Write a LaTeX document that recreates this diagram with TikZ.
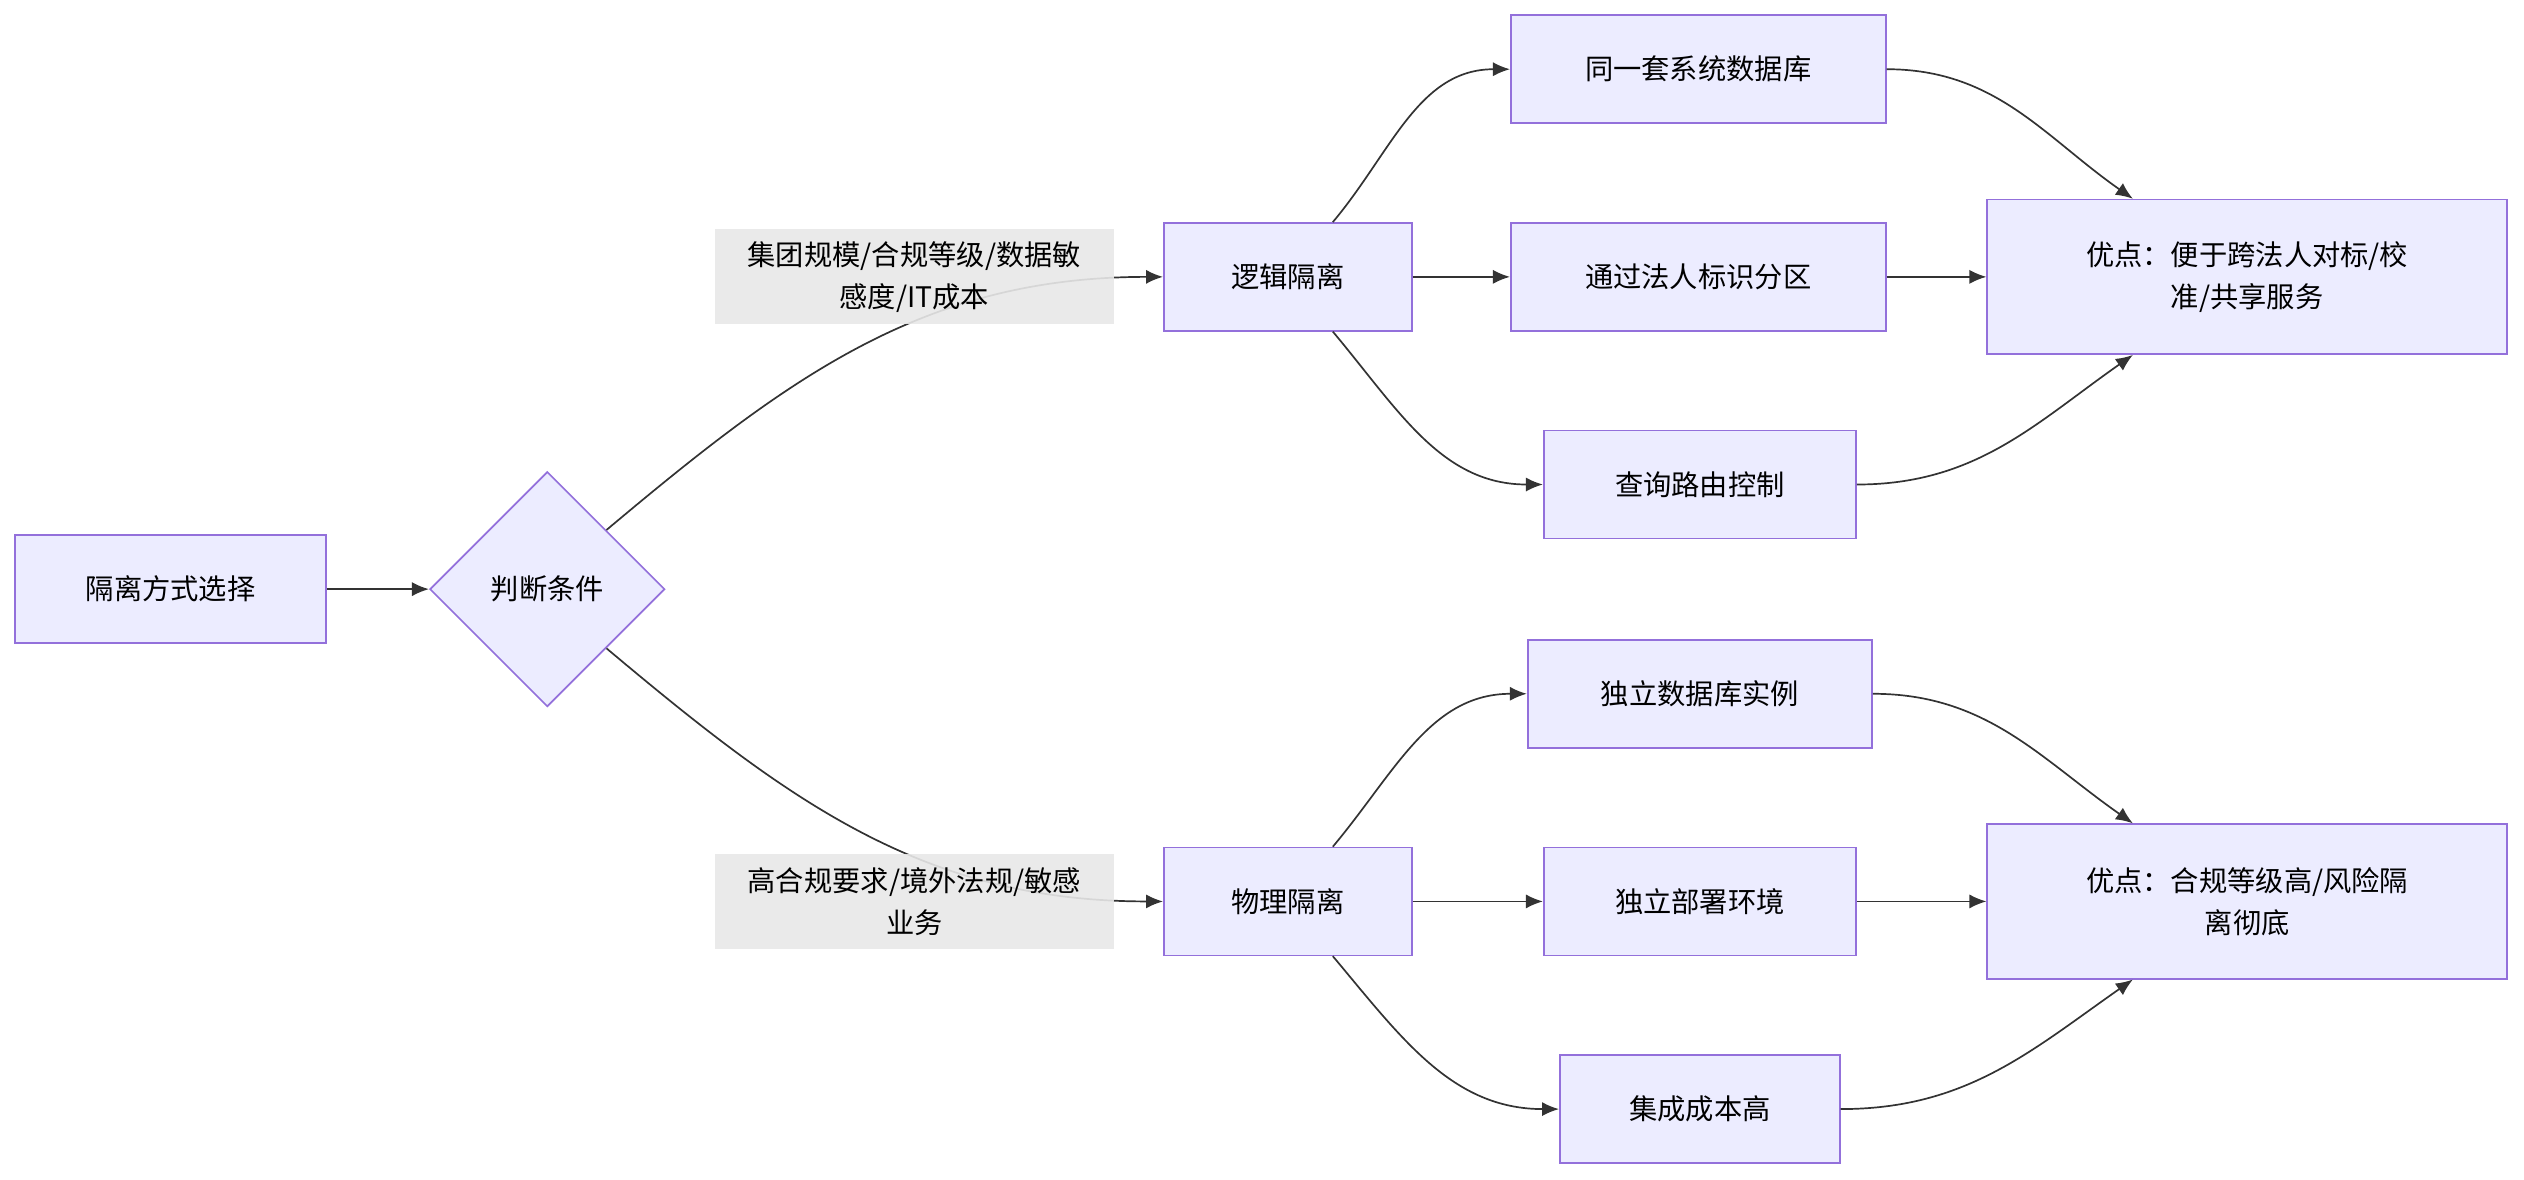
\documentclass[tikz,border=0pt]{standalone}
\usepackage{fontspec}
\setmainfont{Noto Sans CJK SC}
\usetikzlibrary{positioning,calc,shapes.geometric,arrows.meta}
\definecolor{boxfill}{HTML}{ECECFF}
\definecolor{boxline}{HTML}{9370DB}
\definecolor{edgecol}{HTML}{333333}
\definecolor{labelfill}{HTML}{E8E8E8}

\begin{document}
\begin{tikzpicture}
 [ x=0.02cm, y=0.02cm
 , font=\fontsize{10}{15}\selectfont
 , box/.style={draw=boxline, fill=boxfill, line width=0.6pt, minimum height=1.34cm, align=center, inner sep=0pt}
 , choice/.style={diamond, draw=boxline, fill=boxfill, line width=0.6pt, minimum width=2.92cm, minimum height=2.92cm, inner sep=0pt}
 , edge/.style={draw=edgecol, line width=0.6pt, -{Latex[length=6pt,width=5pt]}}
 , cond/.style={fill=labelfill, fill opacity=0.9, text opacity=1, minimum width=4.96cm, minimum height=1.18cm, align=center, inner sep=0pt}
 ]
  \useasboundingbox (0,0) rectangle (1568,-733);
  % left part
  \node [box, minimum width=3.86cm] (start) at (106,-366) {隔离方式选择};
  \node [choice] (judge) at (340,-366) {判断条件};
  \node [box, minimum width=3.08cm] (logic) at (800,-172) {逻辑隔离};
  \node [box, minimum width=3.08cm] (phys) at (800,-560) {物理隔离};
  % logical branch
  \node [box, minimum width=4.66cm] (sameDb) at (1055,-43) {同一套系统数据库};
  \node [box, minimum width=4.66cm] (partition) at (1055,-172) {通过法人标识分区};
  \node [box, minimum width=3.88cm] (routing) at (1056,-301) {查询路由控制};
  \node [box, minimum width=6.46cm, minimum height=1.92cm] (logicPro) at (1396,-172) {优点：便于跨法人对标/校\\准/共享服务};
  % physical branch
  \node [box, minimum width=4.28cm] (ownDb) at (1056,-431) {独立数据库实例};
  \node [box, minimum width=3.88cm] (ownEnv) at (1056,-560) {独立部署环境};
  \node [box, minimum width=3.48cm] (highCost) at (1056,-689) {集成成本高};
  \node [box, minimum width=6.46cm, minimum height=1.92cm] (physPro) at (1396,-560) {优点：合规等级高/风险隔\\离彻底};

  \draw [edge] (start) -- (judge);
  \draw [edge] (judge.45) to[out=40, in=180] (logic.west);
  \draw [edge] (judge.-45) to[out=-40, in=180] (phys.west);

  \draw [edge] ($(logic.north)+(28,0)$) to[out=50, in=180] (sameDb.west);
  \draw [edge] (logic) -- (partition);
  \draw [edge] ($(logic.south)+(28,0)$) to[out=-50, in=180] (routing.west);
  \draw [edge] (sameDb.east) to[out=0, in=145] ($(logicPro.north)+(-71,0)$);
  \draw [edge] (partition) -- (logicPro);
  \draw [edge] (routing.east) to[out=0, in=215] ($(logicPro.south)+(-71,0)$);

  \draw [edge] ($(phys.north)+(28,0)$) to[out=50, in=180] (ownDb.west);
  \draw [edge] (phys) -- (ownEnv);
  \draw [edge] ($(phys.south)+(28,0)$) to[out=-50, in=180] (highCost.west);
  \draw [edge] (ownDb.east) to[out=0, in=145] ($(physPro.north)+(-71,0)$);
  \draw [edge] (ownEnv) -- (physPro);
  \draw [edge] (highCost.east) to[out=0, in=215] ($(physPro.south)+(-71,0)$);

  % conditions on the two branches
  \node [cond] (logicCond) at (568,-172) {集团规模/合规等级/数据敏\\感度/IT成本};
  \node [cond] (physCond) at (568,-560) {高合规要求/境外法规/敏感\\业务};
\end{tikzpicture}
\end{document}
